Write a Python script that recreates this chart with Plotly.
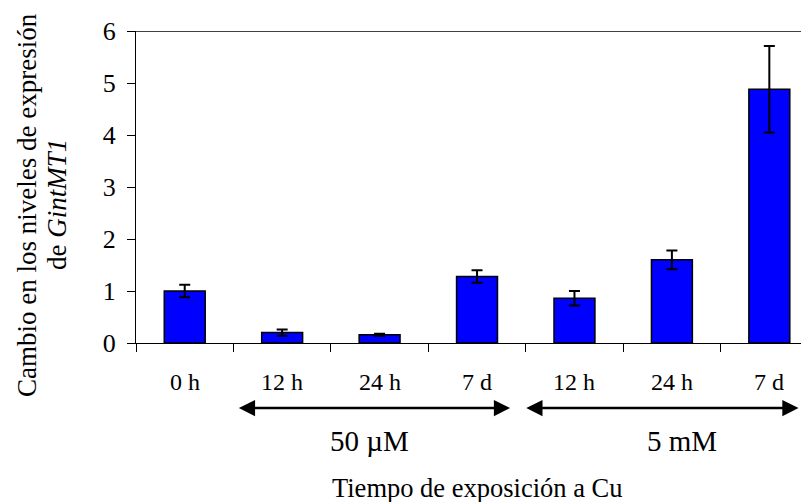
import plotly.graph_objects as go

categories = ["0 h", "12 h", "24 h", "7 d", "12 h", "24 h", "7 d"]
values = [1.00, 0.20, 0.16, 1.28, 0.86, 1.60, 4.88]
errors = [0.12, 0.06, 0.02, 0.12, 0.14, 0.18, 0.83]
groups = ["50 µM", "5 mM"]
group_centers = [1.9, 5.1]
y_ticks = [0, 1, 2, 3, 4, 5, 6]

FONT = "Liberation Serif, Times New Roman, serif"
W, H = 801, 502
L, T, B = 136, 31, 159
plot_h = H - T - B

def py(px):
    return (H - B - px) / plot_h

xs = list(range(len(categories)))

fig = go.Figure()
fig.add_trace(go.Bar(
    x=xs, y=values, width=0.42,
    marker=dict(color="#0000FF", line=dict(color="black", width=1.5)),
    error_y=dict(type="data", array=errors, visible=True, color="black",
                 thickness=2, width=5.5),
    showlegend=False,
))

ann = []
for i, c in enumerate(categories):
    ann.append(dict(x=i, y=py(382), xref="x", yref="paper", text=c,
                    showarrow=False, font=dict(family=FONT, size=24, color="black"),
                    xanchor="center", yanchor="middle"))
for g, cx in zip(groups, group_centers):
    ann.append(dict(x=cx, y=py(441), xref="x", yref="paper", text=g,
                    showarrow=False, font=dict(family=FONT, size=29, color="black"),
                    xanchor="center", yanchor="middle"))
ann.append(dict(x=3, y=py(488), xref="x", yref="paper", text="Tiempo de exposición a Cu",
                showarrow=False, font=dict(family=FONT, size=26.5, color="black"),
                xanchor="center", yanchor="middle"))
# arrows
for x0, x1 in [(0.54, 3.34), (3.49, 6.30)]:
    ann.append(dict(x=x1, y=py(408), ax=x0, ay=0, xref="x", yref="paper",
                    axref="x", ayref="pixel", text="", showarrow=True,
                    arrowhead=2, arrowside="end+start", arrowsize=1.3,
                    arrowwidth=2.5, arrowcolor="black", standoff=0, startstandoff=0))
# y axis title (two lines)
ann.append(dict(x=(27 - L) / (W - L), y=py(205), xref="paper", yref="paper",
                text="Cambio en los niveles de expresión", textangle=-90,
                showarrow=False, font=dict(family=FONT, size=27, color="black"),
                xanchor="center", yanchor="middle"))
ann.append(dict(x=(57 - L) / (W - L), y=py(205), xref="paper", yref="paper",
                text="de <i>GintMT1</i>", textangle=-90,
                showarrow=False, font=dict(family=FONT, size=27, color="black"),
                xanchor="center", yanchor="middle"))

fig.update_layout(
    width=W, height=H,
    margin=dict(l=L, r=0, t=T, b=B),
    paper_bgcolor="white", plot_bgcolor="white",
    font=dict(family=FONT, color="black"),
    annotations=ann,
    xaxis=dict(range=[-0.5, 6.325], tickmode="array",
               tickvals=[-0.5, 0.5, 1.5, 2.5, 3.5, 4.5, 5.5], ticktext=[""] * 7,
               ticks="outside", ticklen=8, tickcolor="black", tickwidth=1,
               showline=True, linecolor="black", linewidth=1.3,
               showgrid=False, zeroline=False, fixedrange=True),
    yaxis=dict(range=[0, 6], tickmode="array", tickvals=y_ticks,
               ticks="outside", ticklen=8, tickcolor="black", tickwidth=1,
               showline=True, linecolor="black", linewidth=1.3,
               showgrid=False, zeroline=False, ticklabelstandoff=6,
               tickfont=dict(family=FONT, size=26, color="black"), fixedrange=True),
    shapes=[dict(type="line", xref="paper", yref="y", x0=0, x1=1, y0=6, y1=6,
                 line=dict(color="black", width=1.3))],
)

fig.write_html("out.html")
